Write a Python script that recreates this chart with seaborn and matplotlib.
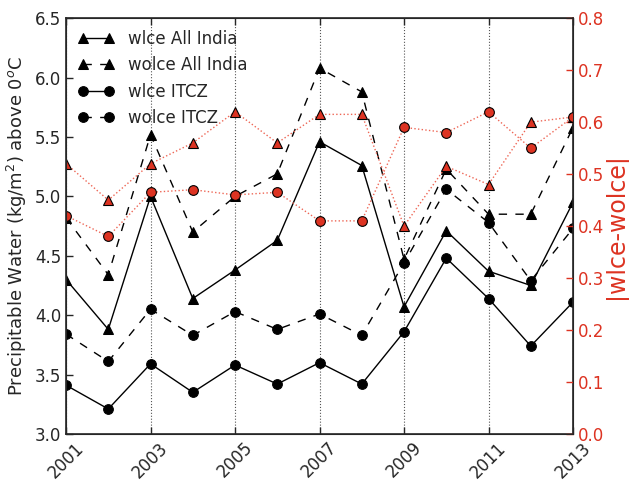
import numpy as np
import pandas as pd
import matplotlib
matplotlib.use("Agg")
import matplotlib.pyplot as plt
import seaborn as sns

# ─── DATA ─────────────────────────────────────────────────────
years = [2001, 2002, 2003, 2004, 2005, 2006, 2007, 2008, 2009, 2010, 2011, 2012, 2013]

wlce_india = [4.30, 3.88, 5.00, 4.14, 4.38, 4.63, 5.46, 5.26, 4.07, 4.71, 4.37, 4.25, 4.95]
wolce_india = [4.82, 4.34, 5.52, 4.70, 5.00, 5.19, 6.08, 5.88, 4.47, 5.23, 4.85, 4.85, 5.58]
wlce_itcz = [3.41, 3.21, 3.59, 3.35, 3.58, 3.42, 3.60, 3.42, 3.86, 4.48, 4.14, 3.74, 4.11]
wolce_itcz = [3.84, 3.61, 4.05, 3.83, 4.03, 3.88, 4.01, 3.83, 4.44, 5.06, 4.78, 4.29, 4.73]

diff_india = [0.52, 0.45, 0.52, 0.56, 0.62, 0.56, 0.615, 0.615, 0.40, 0.515, 0.48, 0.60, 0.61]
diff_itcz = [0.42, 0.38, 0.465, 0.47, 0.46, 0.465, 0.41, 0.41, 0.59, 0.58, 0.62, 0.55, 0.61]

series_names = ["wlce All India", "wolce All India", "wlce ITCZ", "wolce ITCZ"]
series_vals = [wlce_india, wolce_india, wlce_itcz, wolce_itcz]
series_ls = ["-", (0, (6, 6)), "-", (0, (6, 6))]
series_mk = ["^", "^", "o", "o"]

red = "#dd3322"

# ─── PLOT ─────────────────────────────────────────────────────
sns.set_style("ticks")
plt.rcParams["font.family"] = ["DejaVu Sans"]
plt.rcParams["xtick.direction"] = "in"
plt.rcParams["ytick.direction"] = "in"

fig = plt.figure(figsize=(6.29, 4.8), dpi=100)
ax = fig.add_axes([0.105, 0.096, 0.806, 0.866])

for name, vals, ls, mk in zip(series_names, series_vals, series_ls, series_mk):
    df = pd.DataFrame({"year": years, "pw": vals})
    sns.lineplot(data=df, x="year", y="pw", ax=ax, color="black", linestyle=ls,
                 marker=mk, markersize=7, markeredgecolor="black",
                 linewidth=1, label=name)

ax.set_xlim(2001, 2013)
ax.set_ylim(3.0, 6.5)
ax.set_xticks(range(2001, 2014, 2))
ax.set_xticklabels([str(y) for y in range(2001, 2014, 2)], rotation=45, fontsize=12)
ax.set_yticks(np.arange(3.0, 6.51, 0.5))
ax.set_yticklabels([f"{v:.1f}" for v in np.arange(3.0, 6.51, 0.5)], fontsize=12)
ax.set_xlabel("")
ax.set_ylabel("Precipitable Water (kg/m$^2$) above 0$^o$C", fontsize=13)
ax.xaxis.grid(True, linestyle=":", color="#555555", linewidth=0.8)
ax.tick_params(axis="both", length=5, width=1)
ax.tick_params(axis="x", top=True)
for sp in ax.spines.values():
    sp.set_linewidth(1.2)

ax.legend(loc="upper left", frameon=False, numpoints=2, fontsize=12,
          handlelength=2.2, borderaxespad=0.3, labelspacing=0.5)

ax2 = ax.twinx()
for vals, mk in [(diff_india, "^"), (diff_itcz, "o")]:
    df = pd.DataFrame({"year": years, "d": vals})
    sns.lineplot(data=df, x="year", y="d", ax=ax2, color="#ee6655", linestyle=":",
                 marker=mk, markersize=7, markerfacecolor=red,
                 markeredgecolor="black", markeredgewidth=0.8, linewidth=1)
ax2.set_ylim(0, 0.8)
ax2.set_yticks(np.arange(0, 0.81, 0.1))
ax2.set_yticklabels([f"{v:.1f}" for v in np.arange(0, 0.81, 0.1)], fontsize=12)
ax2.tick_params(axis="y", colors=red, length=5, width=1, direction="in")
ax2.set_ylabel("|wlce-wolce|", color=red, fontsize=17, labelpad=0)
ax2.set_xlabel("")
ax2.set_xlim(2001, 2013)

fig.savefig("out.png", dpi=100)
